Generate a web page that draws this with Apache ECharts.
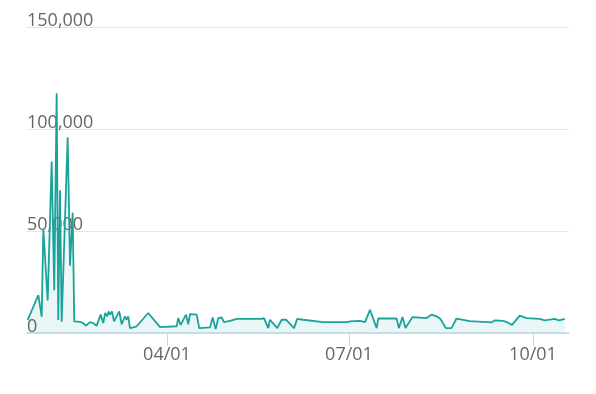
<!DOCTYPE html>
<html>
<head>
<meta charset="utf-8">
<script src="https://cdn.jsdelivr.net/npm/echarts@6/dist/echarts.min.js"></script>
<style>
html,body{margin:0;padding:0;background:#fff;}
#c{width:596px;height:394px;}
</style>
</head>
<body>
<div id="c"></div>
<script>
var dates = [
 '2021-01-21 08:00','2021-01-26 16:00','2021-01-28 08:00','2021-01-29 04:00','2021-01-31 08:00',
 '2021-02-02 08:00','2021-02-03 15:00','2021-02-04 20:00','2021-02-05 15:00','2021-02-06 12:00',
 '2021-02-07 08:00','2021-02-10 08:00','2021-02-11 12:00','2021-02-12 20:00','2021-02-13 15:00',
 '2021-02-16 12:00','2021-02-18 00:00','2021-02-19 12:00','2021-02-21 12:00','2021-02-23 00:00',
 '2021-02-24 20:00','2021-02-26 20:00','2021-02-28 03:00','2021-03-01 03:00','2021-03-02 03:00',
 '2021-03-02 20:00','2021-03-03 12:00','2021-03-04 12:00','2021-03-05 12:00','2021-03-08 03:00',
 '2021-03-09 08:00','2021-03-11 00:00','2021-03-11 20:00','2021-03-12 15:00','2021-03-13 12:00',
 '2021-03-15 03:00','2021-03-16 20:00','2021-03-17 15:00','2021-03-22 15:00','2021-03-28 12:00',
 '2021-04-05 20:00','2021-04-06 15:00','2021-04-07 20:00','2021-04-10 12:00','2021-04-11 15:00',
 '2021-04-12 12:00','2021-04-15 20:00','2021-04-17 03:00','2021-04-22 12:00','2021-04-23 20:00',
 '2021-04-25 08:00','2021-04-26 15:00','2021-04-27 12:00','2021-04-28 08:00','2021-04-29 12:00',
 '2021-05-02 12:00','2021-05-05 20:00','2021-05-12 12:00','2021-05-18 08:00','2021-05-19 12:00',
 '2021-05-21 15:00','2021-05-22 12:00','2021-05-26 03:00','2021-05-28 08:00','2021-05-30 12:00',
 '2021-06-03 12:00','2021-06-05 03:00','2021-06-08 03:00','2021-06-18 03:00','2021-06-29 20:00',
 '2021-07-01 12:00','2021-07-06 12:00','2021-07-09 00:00','2021-07-11 12:00','2021-07-14 20:00',
 '2021-07-15 15:00','2021-07-24 20:00','2021-07-25 22:00','2021-07-26 18:00','2021-07-27 18:00',
 '2021-07-29 06:00','2021-08-01 18:00','2021-08-08 18:00','2021-08-11 06:00','2021-08-13 18:00',
 '2021-08-15 18:00','2021-08-18 10:00','2021-08-21 06:00','2021-08-23 18:00','2021-08-30 10:00',
 '2021-09-10 06:00','2021-09-11 21:00','2021-09-16 00:00','2021-09-18 00:00','2021-09-19 00:00',
 '2021-09-20 12:00','2021-09-24 09:00','2021-09-27 18:00','2021-10-04 09:00','2021-10-06 21:00',
 '2021-10-11 21:00','2021-10-14 00:00','2021-10-16 21:00'
];
var values = [
 6400,18600,8000,51000,16000,
 84000,21000,117500,6400,70000,
 5500,96000,33000,59000,5700,
 5500,4900,3600,5300,4900,
 3600,9000,4900,9800,8200,
 10600,9000,10600,5700,10600,
 4300,8200,6500,8200,2400,
 2800,3300,2400,9800,2900,
 3300,7300,4000,9000,4300,
 9300,9000,2400,2800,7600,
 1900,7300,6500,7600,5300,
 5900,6900,6900,6900,7300,
 2400,6500,2400,6500,6500,
 2400,6900,6500,5300,5300,
 5700,5900,5300,11400,2400,
 7100,7100,2400,2400,7800,
 2400,7800,7300,9000,8200,
 6900,2400,2400,7100,5800,
 5200,6200,5900,5300,6200,
 4000,8500,7300,6900,6200,
 6900,6200,6900
];
var xTicks = ['2021-04-01','2021-07-01','2021-10-01'];
var xRange = ['2021-01-21','2021-10-19'];
var yTicks = [0, 50000, 100000, 150000];

function ts(s){ return +echarts.time.parse(s); }
function two(n){ return (n < 10 ? '0' : '') + n; }

var chart = echarts.init(document.getElementById('c'), null, {renderer:'canvas'});
var font = '"Open Sans", "Noto Sans", sans-serif';
chart.setOption({
  animation:false,
  grid:{left:27,right:27,top:27,bottom:61,containLabel:false},
  xAxis:{
    type:'value',
    min:ts(xRange[0]),
    max:ts(xRange[1]),
    axisLine:{show:true,lineStyle:{color:'#ccd6eb',width:1.5}},
    axisTick:{show:true,length:13,lineStyle:{color:'#ccd6eb'},customValues:xTicks.map(ts)},
    axisLabel:{
      customValues:xTicks.map(ts),
      color:'#666666',fontFamily:font,fontSize:18,margin:13,
      formatter:function(v){var d=new Date(v);return two(d.getMonth()+1)+'/'+two(d.getDate());}
    },
    splitLine:{show:false}
  },
  yAxis:{
    type:'value',
    min:yTicks[0],
    max:yTicks[yTicks.length-1],
    interval:yTicks[1]-yTicks[0],
    axisLine:{show:false},
    axisTick:{show:false},
    axisLabel:{
      inside:true,margin:0,verticalAlign:'bottom',align:'left',lineHeight:13,
      color:'#666666',fontFamily:font,fontSize:18,
      formatter:function(v){return v.toLocaleString('en-US');}
    },
    splitLine:{show:true,lineStyle:{color:'#e6e6e6',width:1}}
  },
  series:[{
    type:'line',
    data:dates.map(function(d,i){return [ts(d), values[i]];}),
    showSymbol:false,
    symbol:'none',
    lineStyle:{color:'#1aa39a',width:1.8},
    itemStyle:{color:'#1aa39a'},
    areaStyle:{
      color:new echarts.graphic.LinearGradient(0,0,0,1,[
        {offset:0,color:'rgba(26,163,154,0.02)'},
        {offset:1,color:'rgba(26,163,154,0.14)'}
      ])
    }
  }]
});
</script>
</body>
</html>
